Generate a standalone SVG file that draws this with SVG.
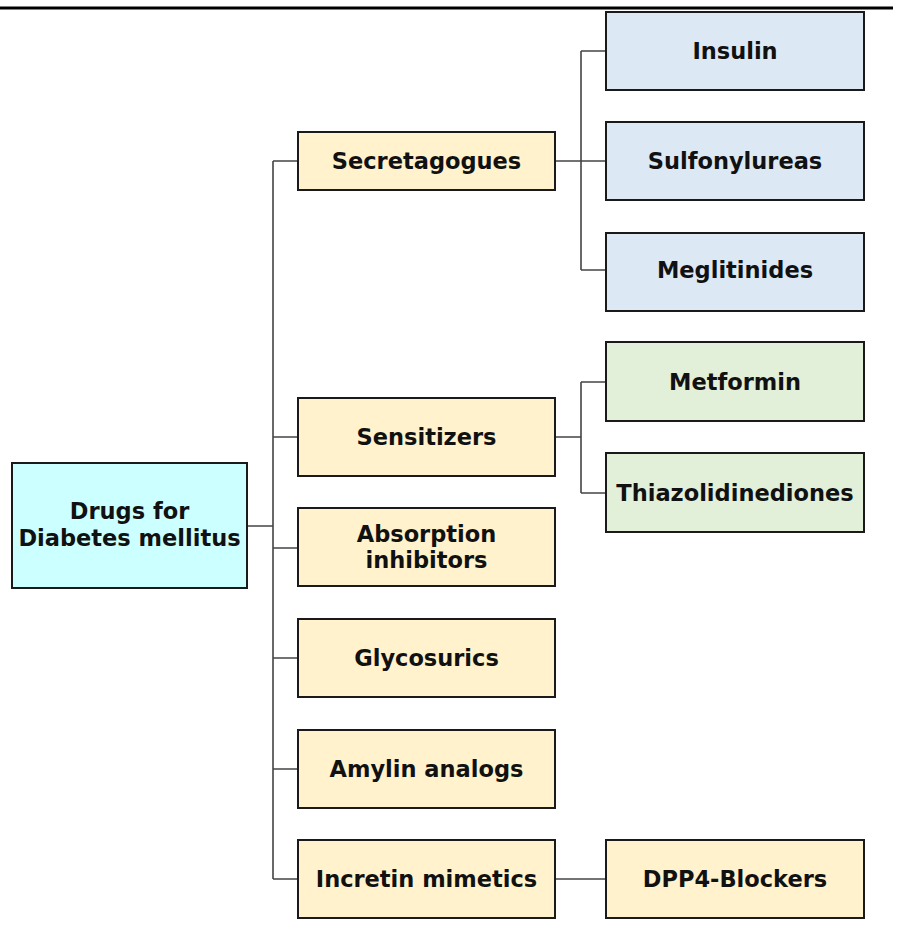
<svg xmlns="http://www.w3.org/2000/svg" width="897" height="929" viewBox="0 0 897 929">
<style>
.b{stroke:#1a1a1a;stroke-width:2}
.y{fill:#fff2cc}.bl{fill:#dde8f5}.g{fill:#e2efd9}.c{fill:#ccffff}
text{font-family:"DejaVu Sans","Liberation Sans",sans-serif;font-weight:700;font-size:22.5px;fill:#111;text-anchor:middle;dominant-baseline:central}
.l{fill:none;stroke:#444;stroke-width:1.6}
</style>
<rect width="897" height="929" fill="#fff"/>
<line x1="0" y1="8" x2="893" y2="8" stroke="#000" stroke-width="3"/>
<g id="connectors" class="l">
<path d="M247 526H273M273 161V879M273 161H298M273 437H298M273 548H298M273 658H298M273 769H298M273 879H298"/>
<path d="M555 161H606M581 51V270M581 51H606M581 270H606"/>
<path d="M555 437H581M581 382V493M581 382H606M581 493H606"/>
<path d="M555 879H606"/>
</g>
<g id="root"><rect class="b c" x="12" y="463" width="235" height="125"/><text x="129.5" y="511">Drugs for</text><text x="129.5" y="538">Diabetes mellitus</text></g>
<g id="secretagogues"><rect class="b y" x="298" y="132" width="257" height="58"/><text x="426.5" y="161">Secretagogues</text></g>
<g id="sensitizers"><rect class="b y" x="298" y="398" width="257" height="78"/><text x="426.5" y="437">Sensitizers</text></g>
<g id="absorption"><rect class="b y" x="298" y="508" width="257" height="78"/><text x="426.5" y="534">Absorption</text><text x="426.5" y="560">inhibitors</text></g>
<g id="glycosurics"><rect class="b y" x="298" y="619" width="257" height="78"/><text x="426.5" y="658">Glycosurics</text></g>
<g id="amylin"><rect class="b y" x="298" y="730" width="257" height="78"/><text x="426.5" y="769">Amylin analogs</text></g>
<g id="incretin"><rect class="b y" x="298" y="840" width="257" height="78"/><text x="426.5" y="879">Incretin mimetics</text></g>
<g id="insulin"><rect class="b bl" x="606" y="12" width="258" height="78"/><text x="735" y="51">Insulin</text></g>
<g id="sulfonylureas"><rect class="b bl" x="606" y="122" width="258" height="78"/><text x="735" y="161">Sulfonylureas</text></g>
<g id="meglitinides"><rect class="b bl" x="606" y="233" width="258" height="78"/><text x="735" y="270">Meglitinides</text></g>
<g id="metformin"><rect class="b g" x="606" y="342" width="258" height="79"/><text x="735" y="382">Metformin</text></g>
<g id="thiazolidinediones"><rect class="b g" x="606" y="453" width="258" height="79"/><text x="735" y="493">Thiazolidinediones</text></g>
<g id="dpp4"><rect class="b y" x="606" y="840" width="258" height="78"/><text x="735" y="879">DPP4-Blockers</text></g>
</svg>
